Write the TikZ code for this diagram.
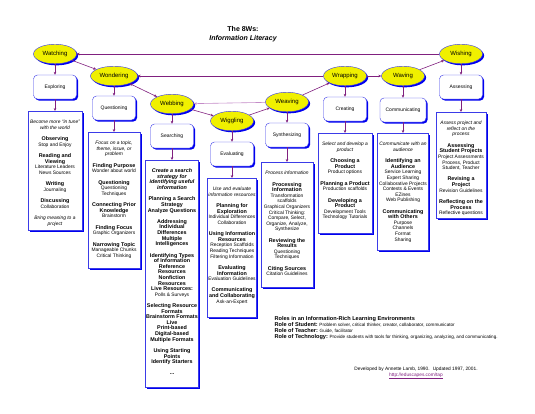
\documentclass[tikz,border=0pt]{standalone}
\usepackage{fontspec}
\setmainfont{Liberation Sans}
\usetikzlibrary{arrows.meta,shapes.geometric,shadows}
\definecolor{cYel}{HTML}{F0F000}
\definecolor{cBlu}{HTML}{3B3BE8}
\definecolor{cShd}{HTML}{0000F0}
\definecolor{cPur}{HTML}{80207F}
\definecolor{cLil}{HTML}{C48CC8}
\tikzset{
  every node/.style={text=black},
  shd/.style={drop shadow={shadow xshift=1.6pt, shadow yshift=-1.6pt, fill=cShd, opacity=1}},
  stage/.style={ellipse, draw=cBlu, fill=cYel, shd, minimum width=43pt, minimum height=19.5pt, inner sep=0pt, font=\fontsize{6}{7}\selectfont},
  task/.style={draw=cBlu, fill=white, shd, rounded corners=4pt, minimum width=43pt, minimum height=24pt, inner sep=1pt, font=\fontsize{5}{6}\selectfont},
  info/.style={draw=cBlu, fill=white, shd, anchor=north, inner xsep=0.5pt, inner ysep=1pt, font=\fontsize{4.9}{5.6}\selectfont},
  link/.style={-{Stealth[length=3pt,width=2.6pt]}, draw=cPur, semithick},
  blink/.style={{Stealth[length=3pt,width=2.6pt]}-{Stealth[length=3pt,width=2.6pt]}, draw=cPur, semithick},
  llink/.style={-{Stealth[length=3pt,width=2.6pt]}, draw=cLil, semithick},
}
\newcommand{\infotext}[3]{\parbox[t][#2pt][t]{#1pt}{\centering\rule{0pt}{11.5pt}#3}}
\newcommand{\hd}[1]{{\fontsize{5.4}{5.6}\selectfont\bfseries #1}}
\newcommand{\gp}{\\[5.7pt]}
\begin{document}
\begin{tikzpicture}[x=1pt, y=-1pt]
\useasboundingbox (0,0) rectangle (535,413);
% title
\node[font=\fontsize{7}{8.5}\selectfont\bfseries, align=center] (title) at (243,34) {The 8Ws:\\\itshape Information Literacy};
% stages
\node[stage] (watch) at (55,54) {Watching};
\node[stage, minimum width=47pt] (wonder) at (114,76) {Wondering};
\node[stage] (web) at (172,104) {Webbing};
\node[stage] (wiggle) at (232,121) {Wiggling};
\node[stage] (weave) at (287,102) {Weaving};
\node[stage] (wrap) at (345,76) {Wrapping};
\node[stage] (wave) at (403,76) {Waving};
\node[stage] (wish) at (461,54) {Wishing};
% tasks
\node[task] (explore) at (55,87) {Exploring};
\node[task] (question) at (114,108) {Questioning};
\node[task] (search) at (172,136) {Searching};
\node[task] (evaluate) at (232,154) {Evaluating};
\node[task] (synth) at (287,135) {Synthesizing};
\node[task] (create) at (345,109) {Creating};
\node[task, minimum width=46pt] (commu) at (403,110) {Communicating};
\node[task] (assess) at (461,87) {Assessing};
% details
\node[info] (exploreI) at (55,111) {\infotext{53}{117}{%
{\itshape Become more ``in tune''\\with the world}\gp
\hd{Observing}\\Stop and Enjoy\gp
\hd{Reading and\\Viewing}\\Literature Leaders\\News Sources\gp
\hd{Writing}\\Journaling\gp
\hd{Discussing}\\Collaboration\gp
{\itshape Bring meaning to a\\project}}};
\node[info] (questionI) at (114,132) {\infotext{51}{134}{%
{\itshape Focus on a topic,\\theme, issue, or\\problem}\gp
\hd{Finding Purpose}\\Wonder about world\gp
\hd{Questioning}\\Questioning\\Techniques\gp
\hd{Connecting Prior\\Knowledge}\\Brainstorm\gp
\hd{Finding Focus}\\Graphic Organizers\gp
\hd{Narrowing Topic}\\Manageable Chunks\\Critical Thinking}};
\node[info] (searchI) at (172,160) {\infotext{52}{225}{%
\hd{\itshape Create a search\\strategy for\\identifying useful\\information}\gp
\hd{Planning a Search\\Strategy\\Analyze Questions}\gp
\hd{Addressing\\Individual\\Differences\\Multiple\\Intelligences}\gp
\hd{Identifying Types\\of Information\\Reference\\Resources\\Nonfiction\\Resources\\Live Resources:}\\Polls \& Surveys\gp
\hd{Selecting Resource\\Formats\\Brainstorm Formats\\Live\\Print-based\\Digital-based\\Multiple Formats}\gp
\hd{Using Starting\\Points\\Identify Starters}\gp
\hd{...}}};
\node[info] (evaluateI) at (232,178) {\infotext{48}{137}{%
{\itshape Use and evaluate\\information resources}\gp
\hd{Planning for\\Exploration}\\Individual Differences\\Collaboration\gp
\hd{Using Information\\Resources}\\Reception Scaffolds\\Reading Techniques\\Filtering Information\gp
\hd{Evaluating\\Information}\\Evaluation Guidelines\gp
\hd{Communicating\\and Collaborating}\\Ask-an-Expert}};
\node[info] (synthI) at (287,162) {\infotext{51}{123}{%
{\itshape Process information}\gp
\hd{Processing\\Information}\\Transformation\\scaffolds\\Graphical Organizers\\Critical Thinking:\\Compare, Select,\\Organize, Analyze,\\Synthesize\gp
\hd{Reviewing the\\Results}\\Questioning\\Techniques\gp
\hd{Citing Sources}\\Citation Guidelines}};
\node[info] (createI) at (345,133) {\infotext{53}{98}{%
{\itshape Select and develop a\\product}\gp
\hd{Choosing a\\Product}\\Product options\gp
\hd{Planning a Product}\\Production scaffolds\gp
\hd{Developing a\\Product}\\Development Tools\\Technology Tutorials}};
\node[info] (commuI) at (403,133) {\infotext{50}{115}{%
{\itshape Communicate with an\\audience}\gp
\hd{Identifying an\\Audience}\\Service Learning\\Expert Sharing\\Collaborative Projects\\Contests \& Events\\EZines\\Web Publishing\gp
\hd{Communicating\\with Others}\\Purpose\\Channels\\Format\\Sharing}};
\node[info] (assessI) at (461,112) {\infotext{49}{104}{%
{\itshape Assess project and\\reflect on the\\process}\gp
\hd{Assessing\\Student Projects}\\Project Assessments\\Process, Product\\Student, Teacher\gp
\hd{Revising a\\Project}\\Revision Guidelines\gp
\hd{Reflecting on the\\Process}\\Reflective questions}};
% links down
\foreach \s/\t/\d in {watch/explore/exploreI, wonder/question/questionI, web/search/searchI, wiggle/evaluate/evaluateI, weave/synth/synthI, wrap/create/createI, wave/commu/commuI, wish/assess/assessI}{
  \draw[link] (\s) -- (\t);
  \draw[link] (\t) -- (\d);
}
% cycle
\draw[link] (watch) -- (wonder);
\draw[blink] (wonder) -- (web);
\draw[link] (web) -- (wiggle);
\draw[link] (wiggle) -- (weave);
\draw[llink] (weave) -- (web);
\draw[link] (weave) -- (wrap);
\draw[link] (wrap) -- (wave);
\draw[link] (wave) -- (wish);
\draw[link] (wish) -- (watch);
\draw[link] (wrap) -- (wonder);
% roles
\node[anchor=north west, align=left, font=\fontsize{4.6}{6}\selectfont] (roles) at (271,313) {%
\hd{\fontsize{5.6}{6}\selectfont Roles in an Information-Rich Learning Environments}\\
\hd{\fontsize{5.6}{6}\selectfont Role of Student:} Problem solver, critical thinker, creator, collaborator, communicator\\
\hd{\fontsize{5.6}{6}\selectfont Role of Teacher:} Guide, facilitator\\
\hd{\fontsize{5.6}{6}\selectfont Role of Technology:} Provide students with tools for thinking, organizing, analyzing, and communicating.};
\node[align=center, font=\fontsize{4.8}{6}\selectfont] (credit) at (416,373) {Developed by Annette Lamb, 1990.~ Updated 1997, 2001.\\\textcolor{cPur}{\underline{http://eduscapes.com/tap}}};
\end{tikzpicture}
\end{document}
